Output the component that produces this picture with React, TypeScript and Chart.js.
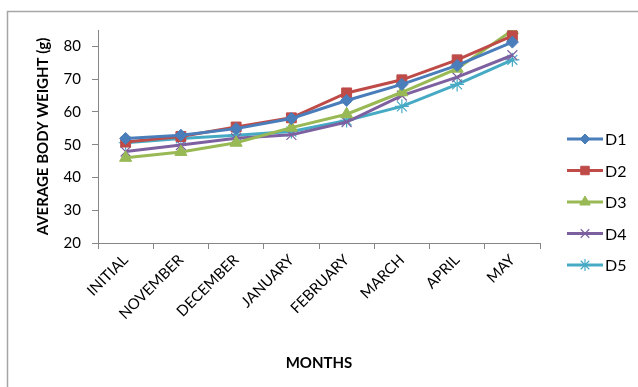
import React, { useEffect, useRef } from "react";
import { Chart, registerables } from "chart.js";
import { drawPoint } from "chart.js/helpers";

Chart.register(...registerables);

const months = ["INITIAL", "NOVEMBER", "DECEMBER", "JANUARY", "FEBRUARY", "MARCH", "APRIL", "MAY"];
const d1 = [51.9, 52.9, 54.9, 58.0, 63.5, 68.4, 74.2, 81.3];
const d2 = [50.8, 52.5, 55.4, 58.2, 65.8, 69.8, 75.9, 83.2];
const d3 = [46.0, 47.8, 50.6, 55.2, 59.3, 66.0, 73.2, 84.9];
const d4 = [47.9, 49.9, 52.0, 53.0, 56.9, 65.0, 70.6, 77.3];
const d5 = [50.6, 51.9, 52.9, 54.0, 57.4, 61.7, 68.4, 75.9];
const yTicks = [20, 30, 40, 50, 60, 70, 80];

const seriesNames = ["D1", "D2", "D3", "D4", "D5"];
const seriesColors = ["#4A7EBB", "#BE4B48", "#98B954", "#7D60A0", "#46AAC5"];
const seriesStyles = ["rectRot", "rect", "triangle", "crossRot", "star"];
const seriesRadius = [6, 7, 7, 7, 7];
const seriesData = [d1, d2, d3, d4, d5];

const FONT = "Lato, 'Open Sans', sans-serif";

export default function App() {
  const ref = useRef<HTMLCanvasElement>(null);
  useEffect(() => {
    const canvas = ref.current;
    if (!canvas) return;
    const frame = {
      id: "frame",
      beforeDraw(chart: any) {
        const ctx = chart.ctx;
        ctx.save();
        ctx.strokeStyle = "#A6A6A6";
        ctx.lineWidth = 1.5;
        ctx.beginPath();
        ctx.moveTo(7.5, 387);
        ctx.lineTo(7.5, 11.5);
        ctx.lineTo(638, 11.5);
        ctx.stroke();
        ctx.restore();
      },
    };
    const legend = {
      id: "customLegend",
      afterDraw(chart: any) {
        const ctx = chart.ctx;
        ctx.save();
        chart.data.datasets.forEach((ds: any, i: number) => {
          const y = 139 + i * 31.5;
          ctx.strokeStyle = ds.borderColor;
          ctx.lineWidth = 3;
          ctx.beginPath();
          ctx.moveTo(567, y);
          ctx.lineTo(603, y);
          ctx.stroke();
          ctx.fillStyle = ds.pointBackgroundColor;
          ctx.strokeStyle = ds.pointBorderColor;
          ctx.lineWidth = ds.pointBorderWidth;
          drawPoint(ctx, { pointStyle: ds.pointStyle, radius: ds.pointRadius - 1, rotation: 0, borderWidth: ds.pointBorderWidth }, 585, y);
          ctx.fillStyle = "#000";
          ctx.font = "16px " + FONT;
          ctx.textAlign = "left";
          ctx.textBaseline = "middle";
          ctx.fillText(ds.label, 605, y + 1);
        });
        ctx.restore();
      },
    };
    const chart = new Chart(canvas, {
      type: "line",
      data: {
        labels: months,
        datasets: seriesData.map((data, i) => ({
          label: seriesNames[i],
          data,
          borderColor: seriesColors[i],
          backgroundColor: seriesColors[i],
          borderWidth: 3,
          pointStyle: seriesStyles[i] as any,
          pointRadius: seriesRadius[i],
          pointBackgroundColor: seriesColors[i],
          pointBorderColor: seriesColors[i],
          pointBorderWidth: seriesStyles[i] === "crossRot" || seriesStyles[i] === "star" ? 1.2 : 1,
          tension: 0,
        })),
      },
      options: {
        responsive: false,
        animation: false,
        layout: { padding: { top: 30, right: 98, left: 0, bottom: 0 } },
        plugins: { legend: { display: false }, tooltip: { enabled: false } },
        scales: {
          x: {
            offset: true,
            grid: { offset: true, drawOnChartArea: false, drawTicks: true, tickLength: 6, color: "#868686" },
            border: { color: "#868686", width: 1 },
            ticks: { maxRotation: 45, minRotation: 45, color: "#000", font: { family: FONT, size: 15 }, padding: 2 },
            title: { display: true, text: "MONTHS", color: "#000", font: { family: FONT, size: 15, weight: "bold" }, padding: { top: 0, bottom: 15 } },
            afterFit(scale: any) { scale.height = 144; },
          },
          y: {
            min: 20,
            max: 85,
            grid: { drawOnChartArea: false, drawTicks: true, tickLength: 6, color: "#868686" },
            border: { color: "#868686", width: 1 },
            ticks: { stepSize: 10, color: "#000", font: { family: FONT, size: 15 }, padding: 11 },
            afterBuildTicks(scale: any) { scale.ticks = yTicks.map((v) => ({ value: v })); },
            title: { display: true, text: "AVERAGE BODY WEIGHT (g)", color: "#000", font: { family: FONT, size: 15, weight: "bold" }, padding: { top: 34, bottom: 0 } },
            afterFit(scale: any) { scale.width = 98; },
          },
        },
      },
      plugins: [frame, legend],
    });
    return () => chart.destroy();
  }, []);
  return (
    <div style={{ position: "absolute", left: 0, top: 0, width: 638, height: 387, background: "#fff" }}>
      <canvas ref={ref} width={638} height={387} style={{ display: "block" }} />
    </div>
  );
}
